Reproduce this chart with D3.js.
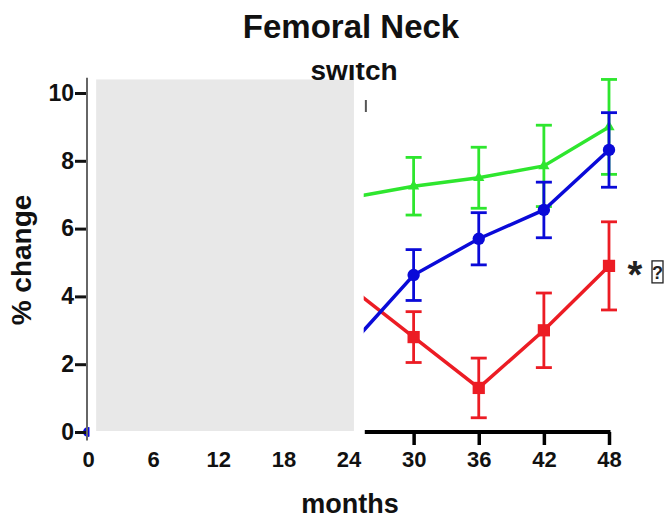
<!DOCTYPE html>
<html>
<head>
<meta charset="utf-8">
<script src="https://cdn.jsdelivr.net/npm/d3@7"></script>
<style>
  body { margin: 0; background: #fff; }
  text { font-family: "Liberation Sans", Arial, Helvetica, sans-serif; font-weight: bold; }
</style>
</head>
<body>
<div id="chart"></div>
<script>
// values
const months = [24, 30, 36, 42, 48];
const xTicks = [0, 6, 12, 18, 24, 30, 36, 42, 48];
const yTicks = [0, 2, 4, 6, 8, 10];

const greenMean = [6.9, 7.25, 7.5, 7.85, 9.0];
const greenErr  = [0.85, 0.85, 0.9, 1.2, 1.4];
const blueMean  = [2.5, 4.63, 5.7, 6.55, 8.32];
const blueErr   = [0.75, 0.75, 0.77, 0.82, 1.1];
const redMean   = [4.3, 2.8, 1.3, 3.0, 4.9];
const redErr    = [0.75, 0.75, 0.88, 1.1, 1.3];
const baseline  = [{ m: 0, v: 0 }];   // blue point at month 0, mostly hidden

const width = 671, height = 520;

const svg = d3.select("#chart").append("svg")
    .attr("width", width)
    .attr("height", height);

const x = d3.scaleLinear().domain([0, 48]).range([88, 609]);
const y = d3.scaleLinear().domain([0, 10]).range([432, 93]);

const series = [
    { name: "green", color: "#2ee62e", mean: greenMean, err: greenErr, symbol: d3.symbolTriangle, size: 55 },
    { name: "red",   color: "#ec1c24", mean: redMean,   err: redErr,   symbol: d3.symbolSquare,   size: 150 },
    { name: "blue",  color: "#0a0ad8", mean: blueMean,  err: blueErr,  symbol: d3.symbolCircle,   size: 120 }
];

const line = d3.line().x(d => x(d.m)).y(d => y(d.v));

// blue starting point at 0
svg.append("g").selectAll("circle")
    .data(baseline)
    .enter().append("circle")
    .attr("cx", d => x(d.m))
    .attr("cy", d => y(d.v))
    .attr("r", 5)
    .attr("fill", "#0a0ad8");

series.forEach(s => {
    const pts = months.map((m, i) => ({ m: m, v: s.mean[i], e: s.err[i] }));
    const g = svg.append("g").attr("class", s.name);

    g.append("path")
        .datum(pts)
        .attr("d", line)
        .attr("fill", "none")
        .attr("stroke", s.color)
        .attr("stroke-width", 3.5);

    const bars = g.selectAll(".err").data(pts).enter().append("g").attr("class", "err");
    bars.append("line")
        .attr("x1", d => x(d.m)).attr("x2", d => x(d.m))
        .attr("y1", d => y(d.v - d.e)).attr("y2", d => y(d.v + d.e))
        .attr("stroke", s.color).attr("stroke-width", 2.8);
    [-1, 1].forEach(k => {
        bars.append("line")
            .attr("x1", d => x(d.m) - 8).attr("x2", d => x(d.m) + 8)
            .attr("y1", d => y(d.v + k * d.e)).attr("y2", d => y(d.v + k * d.e))
            .attr("stroke", s.color).attr("stroke-width", 2.8);
    });

    g.selectAll(".pt").data(pts).enter().append("path")
        .attr("class", "pt")
        .attr("transform", d => `translate(${x(d.m)},${y(d.v)})`)
        .attr("d", d3.symbol().type(s.symbol).size(s.size))
        .attr("fill", s.color);
});

// mask over the first two years
svg.append("rect")
    .attr("x", x(0) + 1.5).attr("y", 60)
    .attr("width", x(25.4) - x(0) - 1.5).attr("height", y(0) + 15 - 60)
    .attr("fill", "#fff");
svg.append("rect")
    .attr("x", x(0.75)).attr("y", y(10.4))
    .attr("width", x(24.5) - x(0.75)).attr("height", y(0.03) - y(10.4))
    .attr("fill", "#e8e8e8");

// y axis
const yAxis = svg.append("g")
    .attr("transform", `translate(${x(0) - 1},0)`)
    .call(d3.axisLeft(y).tickValues(yTicks).tickSize(12).tickPadding(1).tickSizeOuter(0));
yAxis.select(".domain").remove();
yAxis.selectAll(".tick line").attr("stroke", "#111").attr("stroke-width", 3);
yAxis.selectAll(".tick text").attr("font-size", 23).attr("fill", "#111");
yAxis.append("line")
    .attr("x1", 0).attr("x2", 0)
    .attr("y1", y(10.45)).attr("y2", y(-0.25))
    .attr("stroke", "#666").attr("stroke-width", 2);

// x axis (only the visible part keeps its line and ticks)
const xAxis = svg.append("g")
    .attr("transform", `translate(0,${y(0)})`)
    .call(d3.axisBottom(x).tickValues(xTicks).tickSize(13).tickPadding(6).tickSizeOuter(0));
xAxis.select(".domain").remove();
xAxis.selectAll(".tick").filter(d => d <= 24).select("line").remove();
xAxis.selectAll(".tick line").attr("stroke", "#000").attr("stroke-width", 3.5);
xAxis.selectAll(".tick text").attr("font-size", 22).attr("fill", "#111");
xAxis.append("line")
    .attr("x1", x(25.5)).attr("x2", x(48) + 1.5)
    .attr("y1", 0).attr("y2", 0)
    .attr("stroke", "#000").attr("stroke-width", 4);

// labels
svg.append("text")
    .attr("x", 351).attr("y", 38)
    .attr("text-anchor", "middle")
    .attr("font-size", 33)
    .attr("fill", "#111")
    .text("Femoral Neck");

svg.append("defs").append("clipPath").attr("id", "cut")
    .append("rect").attr("x", 0).attr("y", 63).attr("width", width).attr("height", 40);
svg.append("text")
    .attr("x", 354).attr("y", 80)
    .attr("text-anchor", "middle")
    .attr("font-size", 28)
    .attr("fill", "#111")
    .attr("clip-path", "url(#cut)")
    .text("switch");
svg.append("line")
    .attr("x1", x(25.6)).attr("x2", x(25.6))
    .attr("y1", 100).attr("y2", 112)
    .attr("stroke", "#555").attr("stroke-width", 2);

svg.append("text")
    .attr("x", 350).attr("y", 513)
    .attr("text-anchor", "middle")
    .attr("font-size", 27)
    .attr("fill", "#111")
    .text("months");

svg.append("text")
    .attr("transform", "translate(31,260) rotate(-90)")
    .attr("text-anchor", "middle")
    .attr("font-size", 28)
    .attr("fill", "#111")
    .text("% change");

// significance mark at the red end point
const sig = svg.append("g")
    .attr("transform", `translate(${x(48) + 18},${y(redMean[4])})`);
sig.append("text")
    .attr("x", 8).attr("y", 22)
    .attr("text-anchor", "middle")
    .attr("font-size", 38)
    .attr("fill", "#222")
    .text("*");
sig.append("rect")
    .attr("x", 25).attr("y", -5)
    .attr("width", 11).attr("height", 22)
    .attr("fill", "none").attr("stroke", "#222").attr("stroke-width", 1.3);
sig.append("text")
    .attr("x", 30.5).attr("y", 13)
    .attr("text-anchor", "middle")
    .attr("font-size", 18)
    .attr("font-weight", "normal")
    .attr("fill", "#222")
    .text("?");
</script>
</body>
</html>
